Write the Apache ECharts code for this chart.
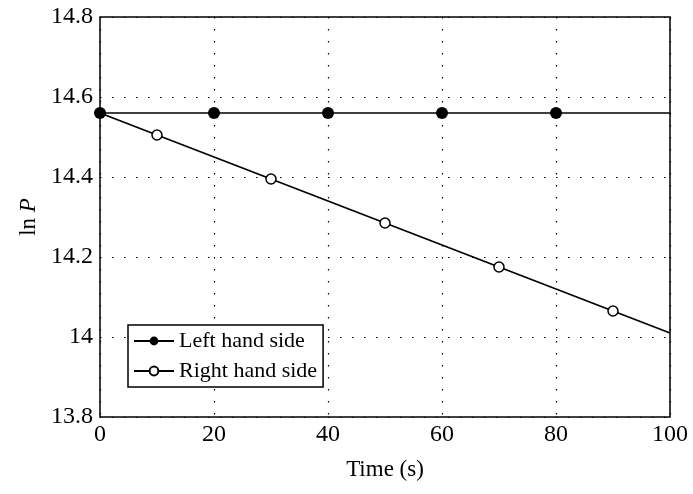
<!DOCTYPE html>
<html>
<head>
<meta charset="utf-8">
<script src="https://cdn.jsdelivr.net/npm/echarts@6/dist/echarts.min.js"></script>
<style>
html, body { margin: 0; padding: 0; background: #fff; }
#chart { width: 693px; height: 494px; }
</style>
</head>
<body>
<div id="chart"></div>
<script>
// time (s) and ln P values
var leftTime = [0, 20, 40, 60, 80, 100];
var leftVals = [14.56, 14.56, 14.56, 14.56, 14.56, 14.56];
var rightTime = [0, 10, 30, 50, 70, 90, 100];
var rightVals = [14.56, 14.505, 14.395, 14.285, 14.175, 14.065, 14.01];
// points drawn without a marker (line ends)
var leftNoMark = [100];
var rightNoMark = [0, 100];

function pts(xs, ys, noMark) {
    return xs.map(function (x, i) {
        var p = { value: [x, ys[i]] };
        if (noMark.indexOf(x) >= 0) p.symbol = 'none';
        return p;
    });
}

var font = 'Liberation Serif';
var myChart = echarts.init(document.getElementById('chart'));

myChart.setOption({
    animation: false,
    grid: {
        left: 100, right: 23, top: 17, bottom: 77,
        show: true,
        borderColor: '#000',
        borderWidth: 1.5,
        backgroundColor: 'transparent'
    },
    legend: {
        orient: 'vertical',
        left: 128,
        top: 325,
        padding: [5, 6, 5, 5],
        itemGap: 8,
        itemWidth: 40,
        itemHeight: 11,
        backgroundColor: '#fff',
        borderColor: '#000',
        borderWidth: 1.5,
        textStyle: { fontFamily: font, fontSize: 22, color: '#000', lineHeight: 22 },
        data: ['Left hand side', 'Right hand side']
    },
    xAxis: {
        type: 'value',
        min: 0, max: 100, interval: 20,
        name: 'Time (s)',
        nameLocation: 'middle',
        nameGap: 41,
        nameTextStyle: { fontFamily: font, fontSize: 23, color: '#000' },
        axisLine: { show: false },
        axisTick: { show: false },
        axisLabel: { fontFamily: font, fontSize: 24, color: '#000', margin: 6 },
        splitLine: { show: true, lineStyle: { color: '#000', width: 1.2, type: [1.5, 10.5] } }
    },
    yAxis: {
        type: 'value',
        min: 13.8, max: 14.8, interval: 0.2,
        name: '{a|ln }{b|P}',
        nameLocation: 'middle',
        nameGap: 60,
        nameRotate: 90,
        nameTextStyle: {
            rich: {
                a: { fontFamily: font, fontSize: 23, color: '#000' },
                b: { fontFamily: font, fontSize: 23, color: '#000', fontStyle: 'italic' }
            }
        },
        axisLine: { show: false },
        axisTick: { show: false },
        axisLabel: {
            fontFamily: font, fontSize: 24, color: '#000', margin: 7,
            formatter: function (v) { return String(Math.round(v * 10) / 10); }
        },
        splitLine: { show: true, lineStyle: { color: '#000', width: 1.2, type: [1.5, 10.5] } }
    },
    series: [
        {
            name: 'Left hand side',
            type: 'line',
            data: pts(leftTime, leftVals, leftNoMark),
            symbol: 'circle',
            symbolSize: 12,
            showAllSymbol: true,
            itemStyle: { color: '#000' },
            lineStyle: { color: '#000', width: 1.5 }
        },
        {
            name: 'Right hand side',
            type: 'line',
            data: pts(rightTime, rightVals, rightNoMark),
            symbol: 'circle',
            symbolSize: 10,
            showAllSymbol: true,
            itemStyle: { color: '#fff', borderColor: '#000', borderWidth: 1.5 },
            lineStyle: { color: '#000', width: 1.8 },
            z: 3
        }
    ]
});
</script>
</body>
</html>
